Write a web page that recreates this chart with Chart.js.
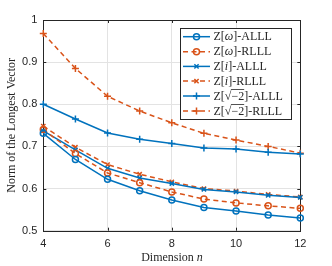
<!DOCTYPE html>
<html><head><meta charset="utf-8">
<script src="https://cdn.jsdelivr.net/npm/chart.js@4/dist/chart.umd.min.js"></script>
<style>html,body{margin:0;padding:0;background:#fff;}canvas{display:block;}</style>
</head><body>
<canvas id="c" width="332" height="266"></canvas>
<script>
const dims = [4,5,6,7,8,9,10,11,12];
const omegaALLL = [0.731,0.669,0.622,0.595,0.573,0.555,0.547,0.537,0.530];
const omegaRLLL = [0.740,0.683,0.637,0.614,0.592,0.575,0.566,0.559,0.553];
const iALLL     = [0.737,0.692,0.648,0.625,0.612,0.598,0.592,0.584,0.579];
const iRLLL     = [0.748,0.698,0.657,0.634,0.616,0.600,0.594,0.586,0.580];
const sqrtALLL  = [0.800,0.765,0.732,0.717,0.707,0.696,0.694,0.686,0.682];
const sqrtRLLL  = [0.968,0.885,0.819,0.784,0.756,0.731,0.715,0.700,0.684];
const xTicks = [4,6,8,10,12];
const yTicks = [0.5,0.6,0.7,0.8,0.9,1];

const BLUE = '#0072BD', ORANGE = '#D95319', AX = '#262626';
const SERIF = '"Liberation Serif", "DejaVu Serif", serif';
const SANS = '"Liberation Sans", Arial, sans-serif';

function pts(arr){ return dims.map((d,i)=>({x:d,y:arr[i]})); }
function ds(label, arr, color, dashed, style, r){
  return {label, data: pts(arr), borderColor: color, backgroundColor: 'rgba(0,0,0,0)',
    borderWidth: 1.5, borderDash: dashed ? [5,3.5] : [], pointStyle: style, pointRadius: r,
    pointBorderWidth: 1.5, pointBorderColor: color, pointBackgroundColor: 'rgba(0,0,0,0)',
    pointHoverRadius: r, tension: 0, clip: false, fill: false};
}
const legendParts = [
  [['Z[',0],['ω',1],[']-ALLL',0]],
  [['Z[',0],['ω',1],[']-RLLL',0]],
  [['Z[',0],['i',1],[']-ALLL',0]],
  [['Z[',0],['i',1],[']-RLLL',0]],
  [['Z[',0],['√',0],['−2',0,1],[']-ALLL',0]],
  [['Z[',0],['√',0],['−2',0,1],[']-RLLL',0]]
];

const boxPlugin = {
  id: 'box',
  beforeDatasetsDraw(chart){
    const {ctx, chartArea:a, scales} = chart;
    ctx.save();
    ctx.strokeStyle = AX; ctx.lineWidth = 1;
    ctx.strokeRect(Math.round(a.left)+0.5, Math.round(a.top)+0.5, Math.round(a.right-a.left), Math.round(a.bottom-a.top));
    const tl = 3;
    ctx.beginPath();
    xTicks.forEach(v=>{ const x = Math.round(scales.x.getPixelForValue(v))+0.5;
      ctx.moveTo(x,a.bottom); ctx.lineTo(x,a.bottom-tl); ctx.moveTo(x,a.top); ctx.lineTo(x,a.top+tl); });
    yTicks.forEach(v=>{ const y = Math.round(scales.y.getPixelForValue(v))+0.5;
      ctx.moveTo(a.left,y); ctx.lineTo(a.left+tl,y); ctx.moveTo(a.right,y); ctx.lineTo(a.right-tl,y); });
    ctx.stroke();
    ctx.restore();
  },
  afterDatasetsDraw(chart){
    const {ctx} = chart;
    ctx.save();
    const fN = '12px ' + SERIF, fI = 'italic 12px ' + SERIF;
    ctx.fillStyle = AX; ctx.textBaseline = 'middle';
    ctx.font = fN; const w1 = ctx.measureText('Dimension ').width;
    ctx.font = fI; const w2 = ctx.measureText('n').width;
    let x0 = 172 - (w1+w2)/2;
    ctx.font = fN; ctx.textAlign='left'; ctx.fillText('Dimension ', x0, 258);
    ctx.font = fI; ctx.fillText('n', x0+w1, 258);
    const L = 180.5, T = 28.5, R = 291.5, B = 119.5;
    ctx.fillStyle = '#fff'; ctx.fillRect(L,T,R-L,B-T);
    ctx.strokeStyle = AX; ctx.lineWidth = 1; ctx.strokeRect(L,T,R-L,B-T);
    const rows = [36.7,51.7,66.4,81.1,96,111];
    chart.data.datasets.forEach((d,i)=>{
      const y = rows[i];
      ctx.save();
      ctx.strokeStyle = d.borderColor; ctx.lineWidth = 1.5; ctx.setLineDash(d.borderDash);
      ctx.beginPath(); ctx.moveTo(183,y); ctx.lineTo(210,y); ctx.stroke();
      ctx.setLineDash([]);
      ctx.fillStyle = 'rgba(0,0,0,0)';
      Chart.helpers.drawPoint(ctx, {pointStyle:d.pointStyle, radius:d.pointRadius, borderWidth:1.5, rotation:0}, 196.5, y);
      ctx.restore();
      let x = 213.5;
      ctx.fillStyle = AX; ctx.textBaseline='middle'; ctx.textAlign='left';
      legendParts[i].forEach(([t,it,ov])=>{
        ctx.font = (it?'italic ':'') + '12px ' + SERIF;
        const w = ctx.measureText(t).width;
        ctx.fillText(t, x, y+0.5);
        if (ov){ ctx.save(); ctx.strokeStyle=AX; ctx.lineWidth=0.8; ctx.beginPath(); ctx.moveTo(x-0.5,y-6.5); ctx.lineTo(x+w,y-6.5); ctx.stroke(); ctx.restore(); }
        x += w;
      });
    });
    ctx.restore();
  }
};

new Chart(document.getElementById('c'), {
  type: 'line',
  data: { datasets: [
    ds('Z[ω]-ALLL', omegaALLL, BLUE, false, 'circle', 3),
    ds('Z[ω]-RLLL', omegaRLLL, ORANGE, true, 'circle', 3),
    ds('Z[i]-ALLL', iALLL, BLUE, false, 'crossRot', 3),
    ds('Z[i]-RLLL', iRLLL, ORANGE, true, 'crossRot', 3),
    ds('Z[√−2]-ALLL', sqrtALLL, BLUE, false, 'cross', 3.5),
    ds('Z[√−2]-RLLL', sqrtRLLL, ORANGE, true, 'cross', 3.5)
  ]},
  options: {
    responsive: false, animation: false, devicePixelRatio: 1,
    layout: { padding: { top: 20, right: 31.7, left: 0, bottom: 0 } },
    plugins: { legend: { display: false }, tooltip: { enabled: false } },
    scales: {
      x: { type: 'linear', min: 4, max: 12,
        afterBuildTicks: s => { s.ticks = xTicks.map(v=>({value:v})); },
        ticks: { font: { family: SANS, size: 11 }, color: AX, padding: 7, maxRotation: 0, autoSkip: false },
        grid: { color: '#e3e3e3', drawTicks: false, lineWidth: 1 },
        border: { display: false },
        afterFit: s => { s.height = 35.3; } },
      y: { min: 0.5, max: 1,
        afterBuildTicks: s => { s.ticks = yTicks.map(v=>({value:v})); },
        ticks: { font: { family: SANS, size: 11 }, color: AX, padding: 6,
          callback: v => { const r = Math.round(v*10)/10; return r===1 ? '1' : r.toFixed(1); } },
        grid: { color: '#e3e3e3', drawTicks: false, lineWidth: 1 },
        border: { display: false },
        title: { display: true, text: 'Norm of the Longest Vector', font: { family: SERIF, size: 12 }, color: AX, padding: { top: 5, bottom: 0 } },
        afterFit: s => { s.width = 43.3; } }
    }
  },
  plugins: [boxPlugin]
});
</script>
</body></html>
